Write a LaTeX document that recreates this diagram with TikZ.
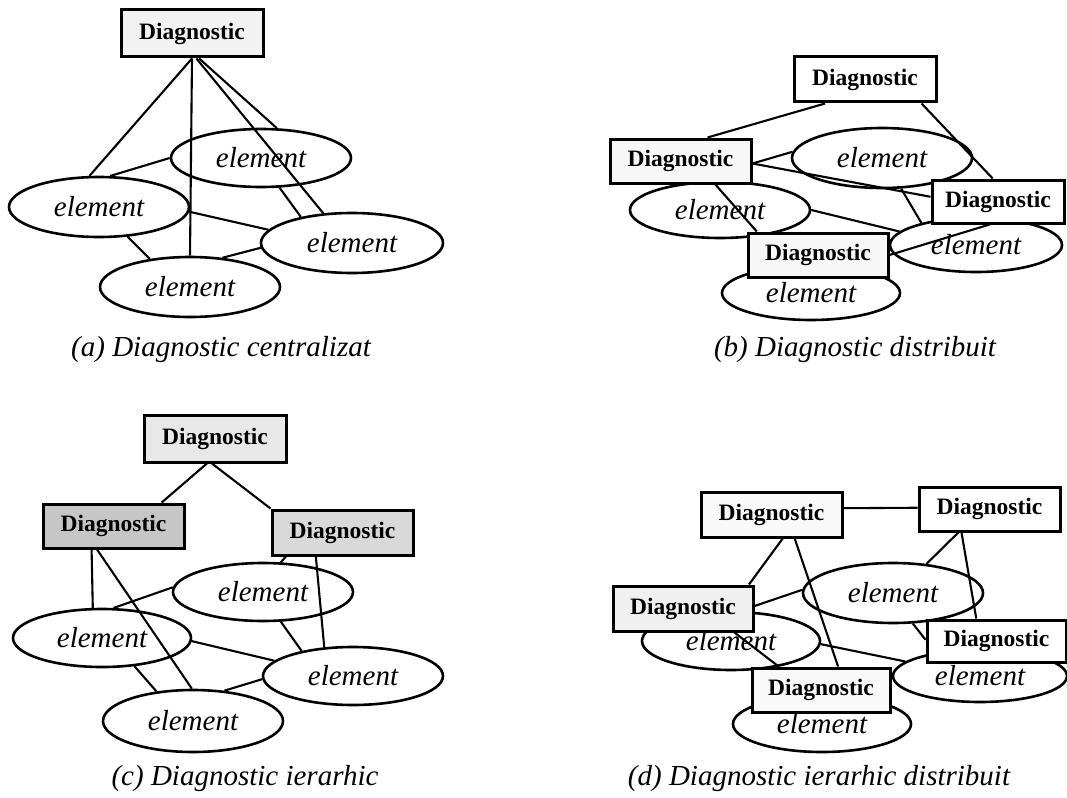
\documentclass[tikz,border=0pt]{standalone}
\usepackage{fontspec}
\setmainfont{Liberation Serif}
\usetikzlibrary{shapes.geometric}
\begin{document}
\begin{tikzpicture}[x=1pt,y=-1pt,
  el/.style={ellipse, draw, line width=2.6pt, fill=white, inner sep=0pt, font=\fontsize{29}{29}\selectfont\itshape},
  dg/.style={rectangle, draw, line width=3pt, fill=white, inner sep=0pt, font=\fontsize{23.5}{23.5}\selectfont\bfseries},
  cn/.style={line width=2.1pt},
  captxt/.style={font=\fontsize{29}{29}\selectfont\itshape}]
\useasboundingbox[fill=white] (0,0) rectangle (1067,797);

% ---------------- (a) ----------------
\node[el, minimum width=180pt, minimum height=58pt] (Ea1) at (261,158) {element};
\node[el, minimum width=180pt, minimum height=60pt] (Ea2) at (99,207) {element};
\node[el, minimum width=182pt, minimum height=60pt] (Ea3) at (352,243) {element};
\node[el, minimum width=180pt, minimum height=60pt] (Ea4) at (190,287) {element};
\node[dg, fill=gray!10, minimum width=142pt, minimum height=47pt] (Da) at (192,33.5) {Diagnostic};
\draw[cn] (Da.south) -- (Ea2.107);
\draw[cn] (Da.south) -- (Ea4.north);
\draw[cn] (Da.-80) -- (Ea3.134);
\draw[cn] (Da.-74) -- (Ea1.62);
\draw[cn] (Ea1.180) -- (Ea2.70);
\draw[cn] (Ea2.-3) -- (Ea3.171);
\draw[cn] (Ea2.-46) -- (Ea4.145);
\draw[cn] (Ea3.183) -- (Ea4.42);
\draw[cn] (Ea1.-58) -- (Ea3.153);
\node[captxt] (Ca) at (221,350) {(a) Diagnostic centralizat};

% ---------------- (b) ----------------
\node[el, minimum width=180pt, minimum height=60pt] (Eb1) at (882,158) {element};
\node[el, minimum width=180pt, minimum height=56pt] (Eb2) at (720,210) {element};
\node[el, minimum width=172pt, minimum height=54pt] (Eb3) at (976,245) {element};
\node[el, minimum width=178pt, minimum height=54pt] (Eb4) at (811,293) {element};
\node[dg, minimum width=142pt, minimum height=45pt] (Db1) at (865,79.5) {Diagnostic};
\node[dg, fill=gray!6, minimum width=141pt, minimum height=44pt] (Db2) at (680.5,161) {Diagnostic};
\node[dg, minimum width=132pt, minimum height=43pt] (Db3) at (998,201.5) {Diagnostic};
\node[dg, fill=gray!6, minimum width=140pt, minimum height=44pt] (Db4) at (818,255) {Diagnostic};
\draw[cn] (Db1.-149.4) -- (Db2.41.9);
\draw[cn] (Db1.-23.4) -- (Db3.103);
\draw[cn] (Db2.-2.4) -- (Eb1.176.8);
\draw[cn] (Db2.-2.4) -- (Db3.176.1);
\draw[cn] (Eb1.-58.5) -- (Eb3.158);
\draw[cn] (Eb2.0) -- (Eb3.170.2);
\draw[cn] (Db2.-34.9) -- (Db4.159.2);
\draw[cn] (Db4.0) -- (Db3.-110.4);
\node[captxt] (Cb) at (855,350) {(b) Diagnostic distribuit};

% ---------------- (c) ----------------
\node[el, minimum width=180pt, minimum height=58pt] (Ec1) at (263,592) {element};
\node[el, minimum width=178pt, minimum height=58pt] (Ec2) at (102,638) {element};
\node[el, minimum width=180pt, minimum height=58pt] (Ec3) at (353,676) {element};
\node[el, minimum width=180pt, minimum height=62pt] (Ec4) at (193,721) {element};
\node[dg, fill=gray!18, minimum width=142pt, minimum height=47pt] (Dc1) at (215,438.5) {Diagnostic};
\node[dg, fill=gray!45, minimum width=141pt, minimum height=44pt] (Dc2) at (113.5,526) {Diagnostic};
\node[dg, fill=gray!30, minimum width=141pt, minimum height=45pt] (Dc3) at (342.5,532.5) {Diagnostic};
\draw[cn] (Dc1.-108.8) -- (Dc2.26.3);
\draw[cn] (Dc1.-97.3) -- (Dc3.north west);
\draw[cn] (Dc2.-133) -- (Ec2.107.8);
\draw[cn] (Dc2.-125.2) -- (Ec4.92);
\draw[cn] (Dc3.-138.6) -- (Ec3.135.4);
\draw[cn] (Dc3.-157.9) -- (Ec1.59.2);
\draw[cn] (Ec1.177.4) -- (Ec2.69.1);
\draw[cn] (Ec2.-2.6) -- (Ec3.169.9);
\draw[cn] (Ec2.-41.3) -- (Ec4.141.7);
\draw[cn] (Ec1.-59.2) -- (Ec3.154.3);
\draw[cn] (Ec3.182.6) -- (Ec4.44.2);
\node[captxt] (Cc) at (245,779) {(c) Diagnostic ierarhic};

% ---------------- (d) ----------------
\node[el, minimum width=180pt, minimum height=60pt] (Ed1) at (893,593) {element};
\node[el, minimum width=178pt, minimum height=58pt] (Ed2) at (731,641) {element};
\node[el, minimum width=174pt, minimum height=52pt] (Ed3) at (980,676) {element};
\node[el, minimum width=178pt, minimum height=56pt] (Ed4) at (822,724) {element};
\node[dg, fill=gray!5, minimum width=141pt, minimum height=45pt] (Dd1) at (771.5,514.5) {Diagnostic};
\node[dg, minimum width=141pt, minimum height=44pt] (Dd2) at (989.5,509) {Diagnostic};
\node[dg, fill=gray!12, minimum width=140pt, minimum height=45pt] (Dd3) at (683,608.5) {Diagnostic};
\node[dg, minimum width=139pt, minimum height=42pt] (Dd4) at (996.5,641) {Diagnostic};
\node[dg, fill=gray!5, minimum width=138pt, minimum height=44pt] (Dd5) at (821,690) {Diagnostic};
\draw[cn] (Dd1.5.3) -- (Dd2.179.2);
\draw[cn] (Dd1.-65) -- (Dd3.20.6);
\draw[cn] (Dd1.-46.3) -- (Dd5.54);
\draw[cn] (Dd2.-143.3) -- (Ed1.41.2);
\draw[cn] (Dd2.-140.3) -- (Dd4.132.9);
\draw[cn] (Dd3.2.9) -- (Ed1.178);
\draw[cn] (Ed1.-57.8) -- (Dd4.179);
\draw[cn] (Dd3.-25.6) -- (Dd5.151.8);
\draw[cn] (Ed2.-2.6) -- (Ed3.169.2);
\node[captxt] (Cd) at (819,779) {(d) Diagnostic ierarhic distribuit};
\end{tikzpicture}
\end{document}
